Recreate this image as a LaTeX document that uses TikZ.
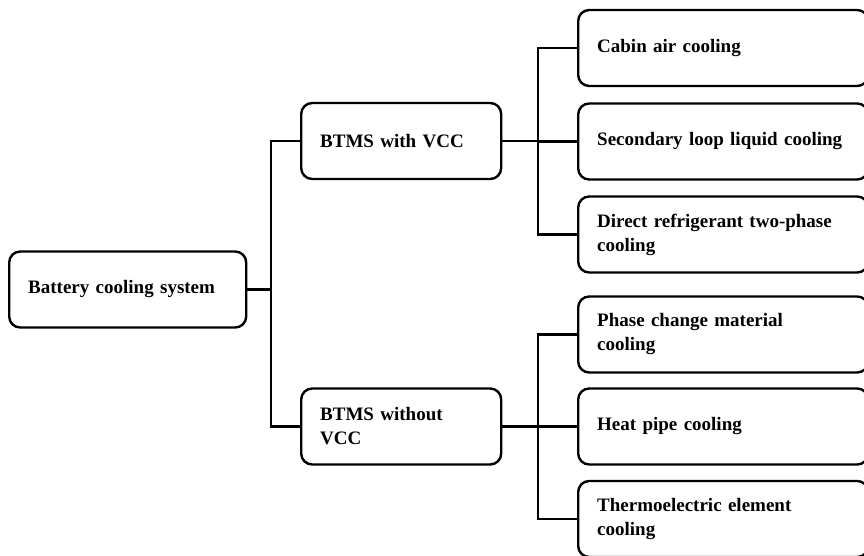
\documentclass[tikz,border=0pt]{standalone}
\usepackage{fontspec}
\setmainfont{Liberation Serif}
\begin{document}
\begin{tikzpicture}[x=1pt,y=-1pt,
  box/.style={draw, line width=2.4pt, rounded corners=11pt, anchor=west,
    align=left, text width=#1, minimum height=76pt, inner xsep=19pt,
    font=\bfseries\fontsize{19}{24}\selectfont},
  link/.style={line width=2.4pt}]
\useasboundingbox (0,0) rectangle (864,556);
\clip (0,0) rectangle (864,556);

% tree levels
\node[box=199pt] (root) at (8,289.5) {Battery cooling system};
\node[box=162pt] (b1) at (300,141) {BTMS with VCC};
\node[box=162pt] (b2) at (300,426.5) {BTMS without\\VCC};

\node[box=252pt] (r1) at (577,48) {Cabin air cooling};
\node[box=252pt] (r2) at (577,141.5) {Secondary loop liquid cooling};
\node[box=252pt] (r3) at (577,234.5) {Direct refrigerant two-phase\\cooling};
\node[box=252pt] (r4) at (577,334.5) {Phase change material\\cooling};
\node[box=252pt] (r5) at (577,426.5) {Heat pipe cooling};
\node[box=252pt] (r6) at (577,519) {Thermoelectric element\\cooling};

% trunk positions
\coordinate (t1) at (271,0);
\coordinate (t2) at (538,0);

% root to first level
\draw[link] (root.east) -- (root.east -| t1);
\draw[link] (b1.west) -| (t1 |- b2.west) -- (b2.west);

% first branch
\draw[link] (b1.east) -- (b1.east -| t2);
\draw[link] (r1.west) -| (t2 |- r3.west) -- (r3.west);
\draw[link] (t2 |- r2.west) -- (r2.west);

% second branch
\draw[link] (b2.east) -- (b2.east -| t2);
\draw[link] (r4.west) -| (t2 |- r6.west) -- (r6.west);
\draw[link] (t2 |- r5.west) -- (r5.west);
\end{tikzpicture}
\end{document}
